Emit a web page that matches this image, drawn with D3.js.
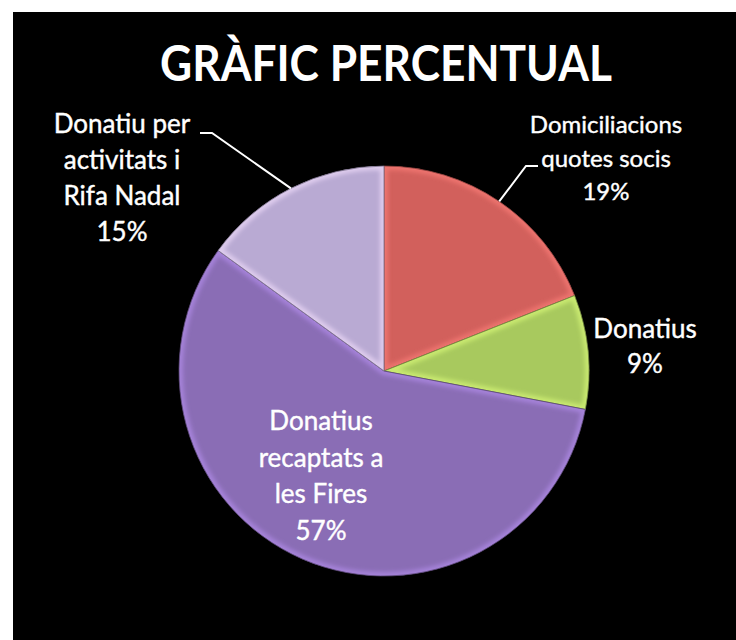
<!DOCTYPE html>
<html>
<head>
<meta charset="utf-8">
<script src="https://cdn.jsdelivr.net/npm/d3@7"></script>
<style>
  html, body { margin: 0; padding: 0; background: #ffffff; }
  svg { display: block; }
</style>
</head>
<body>
<svg id="chart" width="736" height="640"></svg>
<script>
// ---- data ----
const title = "GRÀFIC PERCENTUAL";
const categories = [
  "Domiciliacions quotes socis",
  "Donatius",
  "Donatius recaptats a les Fires",
  "Donatiu per activitats i Rifa Nadal"
];
const values = [19, 9, 57, 15];
const labelLines = [
  ["Domiciliacions", "quotes socis"],
  ["Donatius"],
  ["Donatius", "recaptats a", "les Fires"],
  ["Donatiu per", "activitats i", "Rifa Nadal"]
];
const colors = ["#D2605C", "#A8C95E", "#8A6DB5", "#B9AAD3"];

// ---- layout (not data) ----
const W = 736, H = 640;
const cx = 384, cy = 371, R = 205;
const labelLayout = [
  { x: 606, y: 133, size: 24, lh: 33.5, leader: [[538, 166], [526, 166]] },
  { x: 645, y: 338, size: 26, lh: 35,   leader: null },
  { x: 321, y: 430, size: 26, lh: 36.5, leader: null },
  { x: 122, y: 133, size: 26, lh: 36,   leader: [[200, 133], [212, 133]] }
];

const svg = d3.select("#chart");
// background
svg.append("rect").attr("x", 0).attr("y", 0).attr("width", W).attr("height", H).attr("fill", "#ffffff");
svg.append("rect").attr("x", 13).attr("y", 12).attr("width", W - 13).attr("height", H - 12).attr("fill", "#000000");

const defs = svg.append("defs");
const blur = defs.append("filter").attr("id", "soft").attr("x", "-20%").attr("y", "-20%").attr("width", "140%").attr("height", "140%");
blur.append("feGaussianBlur").attr("stdDeviation", 2.2);
const tblur = defs.append("filter").attr("id", "tsoft");
tblur.append("feGaussianBlur").attr("stdDeviation", 0.35);

// title
svg.append("text")
  .attr("x", 386).attr("y", 81)
  .attr("text-anchor", "middle")
  .attr("font-family", "Lato, 'Open Sans', sans-serif")
  .attr("font-weight", "bold")
  .attr("font-size", 50)
  .attr("textLength", 452)
  .attr("lengthAdjust", "spacingAndGlyphs")
  .attr("fill", "#ffffff")
  .text(title);

// pie
const pie = d3.pie().sort(null).value(d => d)(values);
const arc = d3.arc().innerRadius(0).outerRadius(R);
const g = svg.append("g").attr("transform", `translate(${cx},${cy})`);

pie.forEach((p, i) => {
  defs.append("clipPath").attr("id", "clip" + i)
    .append("path").attr("d", arc(p));
});

const slices = g.selectAll("g.slice").data(pie).join("g").attr("class", "slice");
slices.append("path")
  .attr("d", arc)
  .attr("fill", (d, i) => colors[i]);
// inner bevel highlight
slices.append("g").attr("clip-path", (d, i) => `url(#clip${i})`)
  .append("path")
  .attr("d", arc)
  .attr("fill", "none")
  .attr("stroke", (d, i) => d3.color(colors[i]).brighter(0.8))
  .attr("stroke-width", 8)
  .attr("stroke-opacity", 0.6)
  .attr("filter", "url(#soft)");
// thin dark edge
slices.append("path")
  .attr("d", arc)
  .attr("fill", "none")
  .attr("stroke", (d, i) => d3.color(colors[i]).darker(1.2))
  .attr("stroke-width", 1)
  .attr("stroke-opacity", 0.8);

// labels
const font = "Lato, 'Open Sans', sans-serif";
pie.forEach((p, i) => {
  const L = labelLayout[i];
  const t = svg.append("text")
    .attr("text-anchor", "middle")
    .attr("font-family", font)
    .attr("font-size", L.size)
    .attr("fill", "#ffffff")
    .attr("stroke", "#ffffff")
    .attr("stroke-width", 0.4);
  const lines = labelLines[i].concat([Math.round(values[i] / d3.sum(values) * 100) + "%"]);
  lines.forEach((ln, k) => {
    t.append("tspan").attr("x", L.x).attr("y", L.y + k * L.lh).text(ln);
  });
  if (L.leader) {
    // leader from the slice's outer edge at its mid angle
    const a = (p.startAngle + p.endAngle) / 2;
    const edge = [cx + R * Math.sin(a), cy - R * Math.cos(a)];
    const pts = [edge, L.leader[1], L.leader[0]];
    svg.append("path")
      .attr("d", d3.line()(pts))
      .attr("fill", "none")
      .attr("stroke", "#ffffff")
      .attr("stroke-width", 2);
  }
});
</script>
</body>
</html>
